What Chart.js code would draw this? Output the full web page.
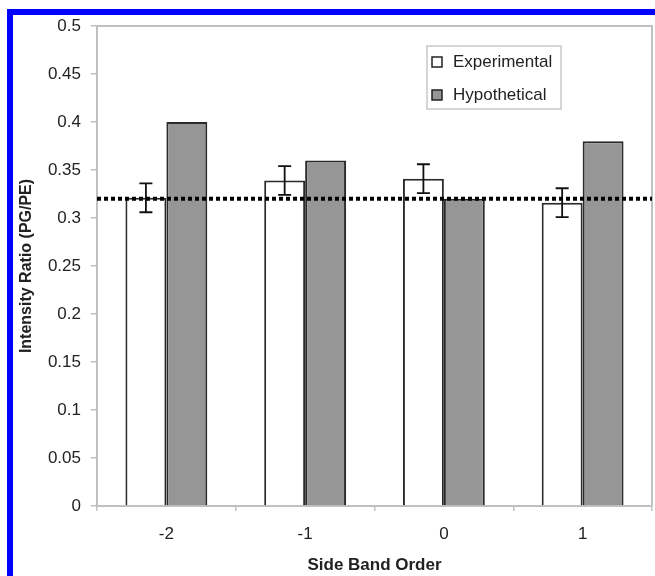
<!DOCTYPE html>
<html>
<head>
<meta charset="utf-8">
<script src="https://cdn.jsdelivr.net/npm/chart.js@4/dist/chart.umd.min.js"></script>
<style>
  body { margin: 0; background: #fff; }
  canvas { display: block; }
</style>
</head>
<body>
<canvas id="ratioChart" width="655" height="576"></canvas>
<script>
// side band orders on the x axis
const orders = ["-2", "-1", "0", "1"];
const experimental = [0.321, 0.339, 0.341, 0.316];
const experimentalErr = [0.015, 0.015, 0.015, 0.015];
const hypothetical = [0.40, 0.36, 0.32, 0.38];
const refLevel = 0.32;

const FONT = "'Liberation Sans', Arial, sans-serif";
const AXIS_GRAY = "#c0c0c0";

// error bars on the experimental bars + dotted reference line
const overlays = {
  id: "overlays",
  afterDatasetsDraw(chart) {
    const ctx = chart.ctx;
    const y = chart.scales.y;
    const meta = chart.getDatasetMeta(0);
    ctx.save();
    ctx.strokeStyle = "#111";
    ctx.lineWidth = 1.8;
    meta.data.forEach((bar, i) => {
      const top = y.getPixelForValue(experimental[i] + experimentalErr[i]);
      const bot = y.getPixelForValue(experimental[i] - experimentalErr[i]);
      ctx.beginPath();
      ctx.moveTo(bar.x, top);
      ctx.lineTo(bar.x, bot);
      ctx.moveTo(bar.x - 6.5, top);
      ctx.lineTo(bar.x + 6.5, top);
      ctx.moveTo(bar.x - 6.5, bot);
      ctx.lineTo(bar.x + 6.5, bot);
      ctx.stroke();
    });
    const ly = y.getPixelForValue(refLevel);
    const area = chart.chartArea;
    ctx.strokeStyle = "#000";
    ctx.lineWidth = 4;
    ctx.setLineDash([4, 3]);
    ctx.beginPath();
    ctx.moveTo(area.left, ly);
    ctx.lineTo(area.right, ly);
    ctx.stroke();
    ctx.restore();
  },
  beforeDatasetsDraw(chart) {
    // light frame on top and right of plot area
    const ctx = chart.ctx;
    const a = chart.chartArea;
    ctx.save();
    ctx.strokeStyle = AXIS_GRAY;
    ctx.lineWidth = 2;
    ctx.beginPath();
    ctx.moveTo(a.left, a.top);
    ctx.lineTo(a.right, a.top);
    ctx.lineTo(a.right, a.bottom);
    ctx.stroke();
    ctx.restore();
  },
  afterDraw(chart) {
    const ctx = chart.ctx;
    const a = chart.chartArea;
    ctx.save();
    // legend box
    const lx = a.right - 225, ly = a.top + 20, lw = 134, lh = 63;
    ctx.fillStyle = "#fff";
    ctx.fillRect(lx, ly, lw, lh);
    ctx.strokeStyle = "#c8c8c8";
    ctx.lineWidth = 1.5;
    ctx.strokeRect(lx, ly, lw, lh);
    const items = chart.data.datasets;
    ctx.font = "17px " + FONT;
    ctx.textBaseline = "middle";
    items.forEach((ds, i) => {
      const cy = ly + 16 + i * 33;
      ctx.fillStyle = ds.backgroundColor;
      ctx.fillRect(lx + 5, cy - 5, 10, 10);
      ctx.strokeStyle = "#222";
      ctx.lineWidth = 1.5;
      ctx.strokeRect(lx + 5, cy - 5, 10, 10);
      ctx.fillStyle = "#222";
      ctx.fillText(ds.label, lx + 26, cy);
    });
    // blue frame around figure
    ctx.fillStyle = "#0000ff";
    ctx.fillRect(7, 9, 6, chart.height - 9);
    ctx.fillRect(7, 9, chart.width - 7, 6);
    ctx.restore();
  }
};

const ctx = document.getElementById("ratioChart").getContext("2d");
const ratioChart = new Chart(ctx, {
  type: "bar",
  data: {
    labels: orders,
    datasets: [
      {
        label: "Experimental",
        data: experimental,
        backgroundColor: "#ffffff",
        borderColor: "#2a2a2a",
        borderWidth: 2,
        categoryPercentage: 0.59,
        barPercentage: 1.0,
      },
      {
        label: "Hypothetical",
        data: hypothetical,
        backgroundColor: "#969696",
        borderColor: "#2a2a2a",
        borderWidth: 2,
        categoryPercentage: 0.59,
        barPercentage: 1.0,
      },
    ],
  },
  options: {
    responsive: false,
    animation: false,
    layout: { padding: { top: 26, right: 3, left: 0, bottom: 0 } },
    plugins: {
      legend: { display: false },
      tooltip: { enabled: false },
    },
    scales: {
      x: {
        afterFit: (scale) => { scale.height = 70; },
        grid: { drawOnChartArea: false, tickLength: 5, color: AXIS_GRAY, lineWidth: 1.5 },
        border: { color: AXIS_GRAY, width: 2 },
        ticks: { font: { family: FONT, size: 17 }, color: "#222", padding: 13 },
        title: {
          display: true,
          text: "Side Band Order",
          font: { family: FONT, size: 17, weight: "bold" },
          color: "#222",
          padding: { top: 0, bottom: 0 },
        },
      },
      y: {
        min: 0,
        max: 0.5,
        afterFit: (scale) => { scale.width = 97; },
        grid: { drawOnChartArea: false, tickLength: 6, color: AXIS_GRAY, lineWidth: 1.5 },
        border: { color: AXIS_GRAY, width: 2 },
        ticks: {
          stepSize: 0.05,
          font: { family: FONT, size: 17 },
          color: "#222",
          padding: 10,
          callback: (v) => String(+v.toFixed(2)),
        },
        title: {
          display: true,
          text: "Intensity Ratio (PG/PE)",
          font: { family: FONT, size: 16, weight: "bold" },
          color: "#222",
          padding: { top: 17, bottom: 0 },
        },
      },
    },
  },
  plugins: [overlays],
});
</script>
</body>
</html>
